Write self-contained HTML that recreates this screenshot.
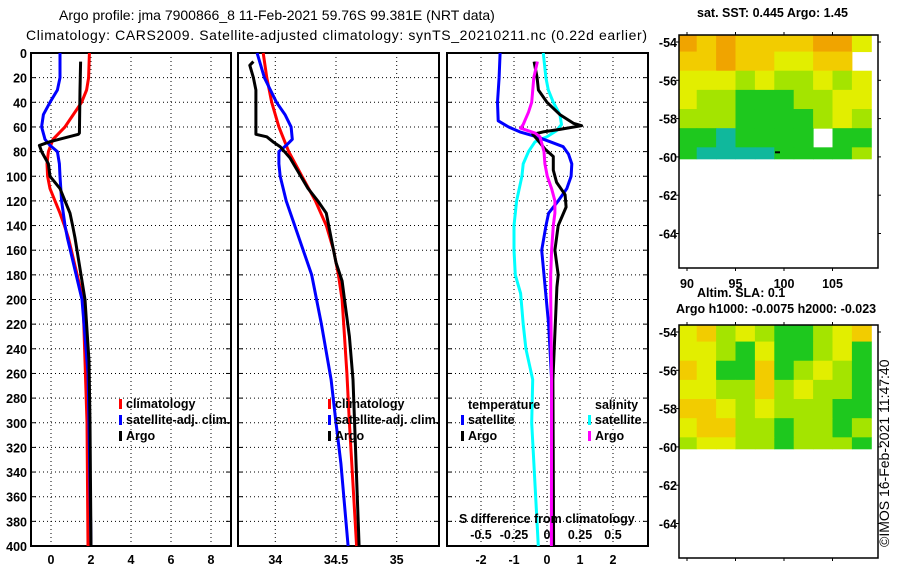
<!DOCTYPE html>
<html><head><meta charset="utf-8">
<style>
html,body{margin:0;padding:0;background:#fff;}
svg{display:block;font-family:"Liberation Sans",sans-serif;}
.t{font-size:14px;fill:#000;}
.b{font-size:12.5px;font-weight:bold;fill:#000;}
</style></head>
<body>
<svg id="c" width="900" height="580" viewBox="0 0 900 580">
<text class="t" x="59" y="20">Argo profile: jma 7900866_8 11-Feb-2021 59.76S 99.381E (NRT data)</text>
<text class="t" x="26" y="40" textLength="621" lengthAdjust="spacing">Climatology: CARS2009. Satellite-adjusted climatology: synTS_20210211.nc (0.22d earlier)</text>
<text class="b" x="697" y="17">sat. SST: 0.445 Argo: 1.45</text>
<text class="b" x="697" y="297">Altim. SLA: 0.1</text>
<text class="b" x="676" y="313">Argo h1000: -0.0075 h2000: -0.023</text>
<text class="t" font-size="13" transform="translate(889,547) rotate(-90)">©IMOS 16-Feb-2021 11:47:40</text>
</svg>
<script>
// ---- data ----
const depthTicks = [0,20,40,60,80,100,120,140,160,180,200,220,240,260,280,300,320,340,360,380,400];
const tempTicks = [0,2,4,6,8];
const salTicks = [34,34.5,35];
const salTickLabels = ["34","34.5","35"];
const diffTicks = [-2,-1,0,1,2];
const sdiffTicks = [-0.5,-0.25,0,0.25,0.5];
const sdiffTickLabels = ["-0.5","-0.25","0","0.25","0.5"];

const tClimDepth = [0,20,30,40,52,60,70,80,90,100,110,120,130,140,150,200,260,300,400];
const tClimVal   = [1.92,1.88,1.78,1.53,1.03,0.7,0.1,-0.13,-0.2,-0.17,-0.05,0.2,0.45,0.67,0.87,1.6,1.72,1.8,1.85];
const tSatDepth = [0,20,30,40,50,60,70,75,80,90,100,120,140,150,200,260,300,400];
const tSatVal   = [0.45,0.45,0.32,-0.05,-0.38,-0.47,-0.3,-0.05,0.32,0.42,0.45,0.53,0.7,0.82,1.55,1.85,1.9,2.0];
const tArgoDepth = [7,30,65,66,72,75,80,90,100,110,120,130,140,150,200,250,300,400];
const tArgoVal   = [1.48,1.45,1.42,1.37,-0.05,-0.58,-0.47,-0.13,-0.05,0.45,0.7,0.95,1.08,1.2,1.7,1.9,1.95,2.0];

const sClimDepth = [0,20,40,60,80,100,120,140,160,180,200,260,300,400];
const sClimVal   = [33.90,33.93,33.97,34.03,34.11,34.22,34.33,34.42,34.48,34.52,34.55,34.59,34.61,34.67];
const sSatDepth = [0,20,30,40,50,60,70,75,80,90,100,120,140,160,180,220,265,300,333,400];
const sSatVal   = [33.85,33.91,33.96,34.01,34.08,34.13,34.14,34.09,34.03,34.03,34.04,34.09,34.16,34.23,34.30,34.38,34.46,34.50,34.54,34.60];
const sArgoDepth = [7,10,20,30,66,68,72,76,85,100,110,120,130,150,170,185,200,230,265,400];
const sArgoVal   = [33.82,33.79,33.82,33.84,33.84,33.93,33.98,34.04,34.12,34.21,34.27,34.35,34.42,34.46,34.50,34.55,34.57,34.61,34.64,34.69];

const dTSatDepth = [0,20,40,55,60,64,68,72,76,82,90,100,110,120,130,140,160,180,220,265,400];
const dTSatVal   = [-1.42,-1.45,-1.5,-1.48,-1.17,-0.82,-0.31,0.09,0.49,0.65,0.75,0.73,0.6,0.34,0.05,-0.03,-0.16,-0.09,0.05,0.14,0.15];
const dTArgoDepth = [7,20,30,40,50,57,59,62,64,66,70,78,84,95,105,115,125,140,160,180,190,265,400];
const dTArgoVal   = [-0.39,-0.3,-0.26,0,0.39,0.8,1.05,0.39,-0.12,-0.43,-0.3,-0.06,0.19,0.19,0.29,0.55,0.58,0.34,0.24,0.34,0.3,0.18,0.2];
const dSSatDepth = [0,20,30,40,50,58,63,68,72,80,90,100,120,140,160,180,195,220,240,265,300,400];
const dSSatVal   = [-0.028,-0.008,0.01,0.048,0.098,0.11,0.073,0,-0.09,-0.14,-0.18,-0.19,-0.23,-0.25,-0.25,-0.24,-0.2,-0.18,-0.16,-0.108,-0.116,-0.066];
const dSArgoDepth = [7,20,40,48,58,61,65,68,80,90,100,110,120,130,140,160,180,195,265,400];
const dSArgoVal   = [-0.073,-0.1,-0.116,-0.14,-0.18,-0.2,-0.09,-0.053,-0.023,-0.016,0.002,0.035,0.06,0.06,0.048,0.035,0.028,0.028,0.035,0.033];

const mapLats = [-54,-55,-56,-57,-58,-59,-60];
const mapLons = [90,92,94,96,98,100,102,104,106,108];
const lonTicks = [90,95,100,105];
const latTicks = [-54,-56,-58,-60,-62,-64];
const sstLevels = [
 [4,3,4,3,3,3,3,4,4,2],
 [3,3,4,3,3,2,2,3,3,null],
 [2,2,2,1,2,1,1,2,1,2],
 [2,1,1,0,0,0,1,1,2,2],
 [1,1,1,0,0,0,0,1,2,1],
 [0,0,-1,0,0,0,0,null,0,0],
 [0,-1,-1,-1,-1,0,0,0,0,1]];
const slaLevels = [
 [2,3,1,2,1,0,0,1,2,3],
 [2,2,1,0,2,0,0,1,2,0],
 [3,2,0,0,3,0,1,2,1,0],
 [2,2,1,1,3,1,2,1,1,0],
 [3,3,2,1,2,1,1,1,0,0],
 [2,3,3,1,1,0,1,1,0,1],
 [1,2,2,1,1,0,1,1,1,0]];
const argoLon = 99.381, argoLat = -59.76;

// ---- drawing ----
const NS='http://www.w3.org/2000/svg';
const svg=document.getElementById('c');
function mk(tag,attrs,parent){const e=document.createElementNS(NS,tag);for(const k in attrs)e.setAttribute(k,attrs[k]);(parent||svg).appendChild(e);return e;}
const Y0=53, YK=(546-53)/400;
const yD=d=>Y0+d*YK;
const xT=v=>51+20*v;
const xS=v=>275.3+(v-34)*121.4;
const xDT=v=>547+33*v;
const xDS=v=>547+132*v;

function panel(name,x0,x1,vgrid){
  const g=mk('g',{},svg);
  
  
  depthTicks.forEach(d=>{ if(d>0&&d<400) mk('line',{x1:x0,x2:x1,y1:yD(d),y2:yD(d),stroke:'#000','stroke-width':1,'stroke-dasharray':'1,3'},g);});
  vgrid.forEach(x=>mk('line',{x1:x,x2:x,y1:yD(0),y2:yD(400),stroke:'#000','stroke-width':1,'stroke-dasharray':'1,3'},g));
  depthTicks.forEach(d=>{mk('line',{x1:x0,x2:x0+5,y1:yD(d),y2:yD(d),stroke:'#000'},g);mk('line',{x1:x1-5,x2:x1,y1:yD(d),y2:yD(d),stroke:'#000'},g);});
  mk('rect',{x:x0,y:yD(0),width:x1-x0,height:yD(400)-yD(0),fill:'none',stroke:'#000','stroke-width':2},g);
  return g;
}
function series(name,g,depths,vals,xf,color){
  const pts=depths.map((d,i)=>xf(vals[i]).toFixed(1)+','+yD(d).toFixed(1)).join(' ');
  const p=mk('polyline',{points:pts,fill:'none',stroke:color,'stroke-width':3,'stroke-linejoin':'round'},g);
  
  
}
function txt(s,x,y,anchor,g,name,color){
  const t=mk('text',{x:x,y:y,'text-anchor':anchor||'start',class:'b'},g||svg);
  if(color) t.setAttribute('fill',color);
  t.textContent=s;
  
  
  return t;
}
function legendMark(x,y,color,g){mk('rect',{x:x,y:y-9,width:3,height:10,fill:color},g);}

depthTicks.forEach(d=>txt(String(d),27,yD(d)+5,'end',svg,'depth-tick-label'));

const p1=panel('temperature-panel',31,231,tempTicks.map(xT));
series('temp-climatology-line',p1,tClimDepth,tClimVal,xT,'#ff0000');
series('temp-satellite-adj-line',p1,tSatDepth,tSatVal,xT,'#0000ff');
series('temp-argo-line',p1,tArgoDepth,tArgoVal,xT,'#000000');
tempTicks.forEach(v=>txt(String(v),xT(v),564,'middle',svg,'temp-x-tick-label'));
legendMark(119,408,'#ff0000',p1);txt('climatology',126,408,'start',p1,'legend-climatology');
legendMark(119,424,'#0000ff',p1);txt('satellite-adj. clim.',126,424,'start',p1,'legend-satellite-adj');
legendMark(119,440,'#000',p1);txt('Argo',126,440,'start',p1,'legend-argo');

const p2=panel('salinity-panel',238,439,salTicks.map(xS));
series('sal-climatology-line',p2,sClimDepth,sClimVal,xS,'#ff0000');
series('sal-satellite-adj-line',p2,sSatDepth,sSatVal,xS,'#0000ff');
series('sal-argo-line',p2,sArgoDepth,sArgoVal,xS,'#000000');
salTicks.forEach((v,i)=>txt(salTickLabels[i],xS(v),564,'middle',svg,'sal-x-tick-label'));
legendMark(328,408,'#ff0000',p2);txt('climatology',335,408,'start',p2,'legend-climatology-2');
legendMark(328,424,'#0000ff',p2);txt('satellite-adj. clim.',335,424,'start',p2,'legend-satellite-adj-2');
legendMark(328,440,'#000',p2);txt('Argo',335,440,'start',p2,'legend-argo-2');

const p3=panel('difference-panel',447,648,diffTicks.map(xDT));
series('sdiff-satellite-line',p3,dSSatDepth,dSSatVal,xDS,'#00ffff');
series('tdiff-satellite-line',p3,dTSatDepth,dTSatVal,xDT,'#0000ff');
series('tdiff-argo-line',p3,dTArgoDepth,dTArgoVal,xDT,'#000000');
series('sdiff-argo-line',p3,dSArgoDepth,dSArgoVal,xDS,'#ff00ff');
diffTicks.forEach(v=>txt(String(v),xDT(v),564,'middle',svg,'tdiff-x-tick-label'));
txt('temperature',468,409,'start',p3,'legend-temperature-heading');
legendMark(461,424,'#0000ff',p3);txt('satellite',468,424,'start',p3,'legend-temp-satellite');
legendMark(461,440,'#000',p3);txt('Argo',468,440,'start',p3,'legend-temp-argo');
txt('salinity',595,409,'start',p3,'legend-salinity-heading');
legendMark(588,424,'#00ffff',p3);txt('satellite',595,424,'start',p3,'legend-sal-satellite');
legendMark(588,440,'#ff00ff',p3);txt('Argo',595,440,'start',p3,'legend-sal-argo');
txt('S difference from climatology',459,523,'start',p3,'sdiff-axis-title');
sdiffTicks.forEach((v,i)=>txt(sdiffTickLabels[i],xDS(v),539,'middle',p3,'sdiff-tick-label'));

const levelColor={'4':'#f0a400','3':'#f2cc00','2':'#e2ee00','1':'#a4e400','0':'#1ec81e','-1':'#10b89c'};
function map(name,top,levels,showLon){
  const L=679,R=878,B=top+233;
  const lonX=lon=>687+(lon-90)*9.7;
  const latY=lat=>top+7+(-54-lat)*19.15;
  const g=mk('g',{},svg);
  
  
  levels.forEach((row,r)=>row.forEach((lv,c)=>{
    if(lv===null) return;
    let x0=Math.max(L,lonX(mapLons[c]-1)), x1=Math.min(R,lonX(mapLons[c]+1));
    let y0=Math.max(top,latY(mapLats[r]+0.5)), y1=Math.min(latY(-60.1),latY(mapLats[r]-0.5));
    const cell=mk('rect',{x:x0,y:y0,width:x1-x0+0.5,height:y1-y0+0.5,fill:levelColor[lv]},g);
    
    
  }));
  mk('rect',{x:L,y:top,width:R-L,height:B-top,fill:'none',stroke:'#000','stroke-width':1.5},g);
  latTicks.forEach(lat=>{const y=latY(lat);
    mk('line',{x1:L-3,x2:L,y1:y,y2:y,stroke:'#000'},g);mk('line',{x1:R,x2:R+3,y1:y,y2:y,stroke:'#000'},g);
    txt(String(lat),677,y+5,'end',g,'lat-tick-label');});
  lonTicks.forEach(lon=>{const x=lonX(lon);
    mk('line',{x1:x,x2:x,y1:top-3,y2:top,stroke:'#000'},g);mk('line',{x1:x,x2:x,y1:B,y2:B+3,stroke:'#000'},g);
    if(showLon) txt(String(lon),x,B+20,'middle',g,'lon-tick-label');});
  return {g,lonX,latY};
}
const m1=map('sst-map',35,sstLevels,true);
mk('line',{x1:m1.lonX(argoLon)-3,x2:m1.lonX(argoLon)+2,y1:m1.latY(argoLat),y2:m1.latY(argoLat),stroke:'#000','stroke-width':2},m1.g);
map('sla-map',325,slaLevels,false);
</script>
</body></html>
